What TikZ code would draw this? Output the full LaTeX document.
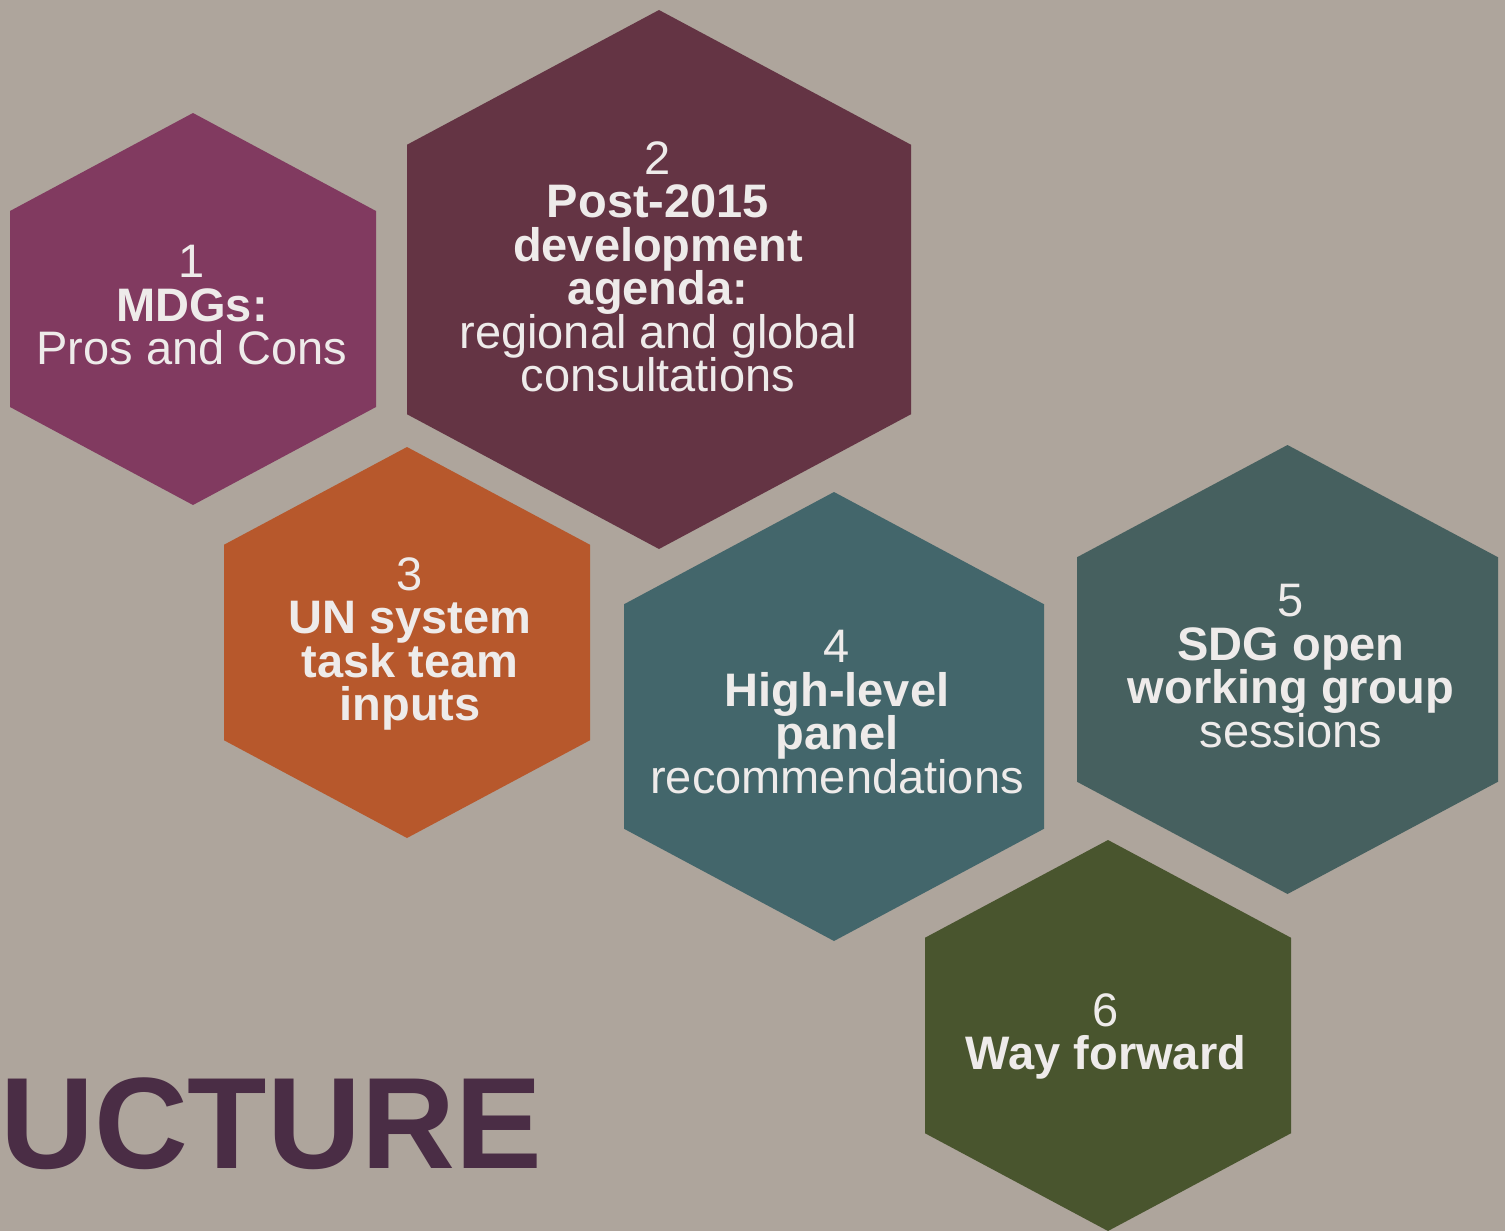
\documentclass[tikz,border=0pt]{standalone}
\usepackage{fontspec}
\setmainfont{Liberation Sans}
% keep a fixed baseline distance even when descenders meet ascenders
\lineskiplimit=-100pt
\definecolor{bg}{HTML}{AEA59C}
\definecolor{cellA}{HTML}{813A60}
\definecolor{cellB}{HTML}{643444}
\definecolor{cellC}{HTML}{B7582C}
\definecolor{cellD}{HTML}{43666B}
\definecolor{cellE}{HTML}{46605F}
\definecolor{cellF}{HTML}{49552E}
\definecolor{txt}{HTML}{EEEBEA}
\definecolor{headline}{HTML}{4A2D45}
% pointy-top hexagon: centre (#1,#2), half width #3, half height #4, fill #5
\newcommand{\hexcell}[5]{%
  \fill[#5] ({#1},{#2-#4}) -- ({#1+#3},{#2-#4/2}) -- ({#1+#3},{#2+#4/2})
    -- ({#1},{#2+#4}) -- ({#1-#3},{#2+#4/2}) -- ({#1-#3},{#2-#4/2}) -- cycle;}
\begin{document}
\begin{tikzpicture}[x=1pt,y=-1pt,
  celltext/.style={anchor=north, inner sep=0pt, align=center, text=txt,
    font=\fontsize{47}{43.5}\selectfont}]
\fill[bg] (0,0) rectangle (1505,1231);
\useasboundingbox (0,0) rectangle (1505,1231);

% honeycomb cells
\hexcell{193}{309}{183}{196}{cellA}
\hexcell{659}{279.5}{252}{269.5}{cellB}
\hexcell{407}{642.5}{183}{195.5}{cellC}
\hexcell{834}{716.5}{210}{224.5}{cellD}
\hexcell{1287.5}{669.5}{210.5}{224.5}{cellE}
\hexcell{1108}{1035.5}{183}{195.5}{cellF}

% cell captions
\node[celltext] (t1) at (192,245) {1\\\textbf{MDGs:}\\Pros and Cons};
\node[celltext] (t2) at (658,141) {2\\\textbf{Post-2015}\\\textbf{development}\\\textbf{agenda:}\\regional and global\\consultations};
\node[celltext] (t3) at (410,557) {3\\\textbf{UN system}\\\textbf{task team}\\\textbf{inputs}};
\node[celltext] (t4) at (837,630) {4\\\textbf{High-level}\\\textbf{panel}\\recommendations};
\node[celltext] (t5) at (1291,584) {5\\\textbf{SDG open}\\\textbf{working group}\\sessions};
\node[celltext] (t6) at (1106,993) {6\\\textbf{Way forward}};

% heading at the lower left
\node[anchor=base west, inner sep=0pt, text=headline,
  font=\fontsize{130}{130}\selectfont\bfseries] (heading) at (0,1168) {UCTURE};
\end{tikzpicture}
\end{document}
